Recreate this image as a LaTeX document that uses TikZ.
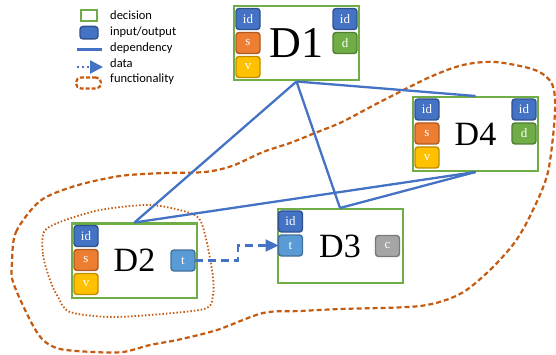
\documentclass[tikz,border=0pt]{standalone}
\usepackage{fontspec}
\setmainfont{Liberation Serif}
\newfontfamily\legendfont{Carlito}
\usetikzlibrary{arrows.meta,positioning}

\definecolor{decgreen}{HTML}{70AD47}
\definecolor{depblue}{HTML}{4472C4}
\definecolor{funcbrown}{HTML}{C55A11}
\definecolor{idfill}{HTML}{4472C4}
\definecolor{iddraw}{HTML}{2F528F}
\definecolor{sfill}{HTML}{ED7D31}
\definecolor{sdraw}{HTML}{AE5A21}
\definecolor{vfill}{HTML}{FFC000}
\definecolor{vdraw}{HTML}{BC8C00}
\definecolor{dfill}{HTML}{70AD47}
\definecolor{ddraw}{HTML}{507E32}
\definecolor{tfill}{HTML}{5B9BD5}
\definecolor{tdraw}{HTML}{41719C}
\definecolor{cfill}{HTML}{A5A5A5}
\definecolor{cdraw}{HTML}{787878}

\begin{document}
\begin{tikzpicture}[x=1pt,y=-1pt,node distance=3pt,auto]
    \tikzstyle{decision}=[draw=decgreen,fill=white,line width=2pt,minimum width=125pt,minimum height=74pt,inner sep=0pt,font=\fontsize{34}{34}\selectfont]
    \tikzstyle{io}=[rounded corners=3pt,line width=1.4pt,outer sep=0pt,minimum width=24pt,minimum height=21pt,inner sep=0pt,text=white,font=\fontsize{13}{13}\selectfont]
    \tikzstyle{idbox}=[io,fill=idfill,draw=iddraw]
    \tikzstyle{sbox}=[io,fill=sfill,draw=sdraw]
    \tikzstyle{vbox}=[io,fill=vfill,draw=vdraw]
    \tikzstyle{dbox}=[io,fill=dfill,draw=ddraw]
    \tikzstyle{tbox}=[io,fill=tfill,draw=tdraw]
    \tikzstyle{cbox}=[io,fill=cfill,draw=cdraw]
    \tikzstyle{dep}=[draw=depblue,line width=2.3pt]
    \tikzstyle{data}=[draw=depblue,line width=2.3pt,dash pattern=on 8pt off 5pt,-{Triangle[length=13pt,width=12pt]}]
    \tikzstyle{func}=[draw=funcbrown,line width=2.2pt,dash pattern=on 5pt off 3pt]
    \tikzstyle{subfunc}=[draw=funcbrown,line width=1.8pt,dash pattern=on 1.5pt off 2pt]
    \tikzstyle{legend}=[anchor=west,inner sep=0pt,text height=9pt,text depth=3pt,font=\legendfont\fontsize{12.5}{12.5}\selectfont]

    \useasboundingbox (0,0) rectangle (556,355);

    \draw[func] plot[smooth cycle] coordinates {(12,262) (16,232) (40,201) (75,186) (120,176) (165,173) (205,172) (232,166) (263,152) (290,143) (315,133) (342,122) (380,102) (430,77) (463,65) (495,62) (535,70) (552,84) (555,112) (548,172) (532,212) (515,242) (490,270) (460,294) (420,306) (340,309) (300,311) (263,313) (217,330) (177,340) (150,345) (123,352) (93,352) (60,349) (43,340) (30,320) (13,282)};
    \draw[subfunc] plot[smooth cycle] coordinates {(44,232) (43,255) (50,280) (58,297) (70,312) (113,317) (173,313) (207,308) (213,295) (213,277) (207,243) (200,220) (187,212) (150,205) (100,210) (60,222)};

    \node[draw=decgreen,line width=2pt,minimum width=16pt,minimum height=11pt,inner sep=0pt] (legdec) at (89,15.5) {};
    \node[legend] (txtdec) at (110,17) {decision};
    \node[idbox,minimum width=18pt,minimum height=12.5pt] (legio) at (89,32.7) {};
    \node[legend] (txtio) at (110,33) {input/output};
    \coordinate (legdepa) at (77,49.5);
    \coordinate (legdepb) at (102,49.5);
    \draw[dep] (legdepa) -- (legdepb);
    \node[legend] (txtdep) at (110,49) {dependency};
    \coordinate (legdataa) at (77,67);
    \coordinate (legdatab) at (103,67);
    \draw[draw=depblue,line width=2.3pt,dash pattern=on 2pt off 3pt,-{Triangle[length=13pt,width=13pt]}] (legdataa) -- (legdatab);
    \node[legend] (txtdata) at (110,64.5) {data};
    \node[func,rounded corners=5pt,dash pattern=on 4pt off 2pt,minimum width=25pt,minimum height=11pt,inner sep=0pt] (legfunc) at (88.5,83) {};
    \node[legend] (txtfunc) at (110,80) {functionality};

    \node[decision,font=\fontsize{44}{44}\selectfont] (d1) at (296.5,43.5) {D1};
    \node[decision] (d2) at (134.5,260.5) {D2};
    \node[decision] (d3) at (340,246) {D3};
    \node[decision] (d4) at (475.5,134) {D4};

    \path[dep]
    (d1.south) edge (d2.north)
    (d1.south) edge (d3.north)
    (d1.south) edge (d4.north)
    (d4.south) edge (d2.north)
    (d4.south) edge (d3.north);

    \node[idbox] (d1id) [below right=3pt and 3pt of d1.north west] {id};
    \node[sbox] (d1s) [below=of d1id] {s};
    \node[vbox] (d1v) [below=of d1s] {v};
    \node[idbox] (d1out) [below left=3pt and 3pt of d1.north east] {id};
    \node[dbox] (d1d) [below=of d1out] {d};

    \node[idbox] (d2id) [below right=3pt and 3pt of d2.north west] {id};
    \node[sbox] (d2s) [below=of d2id] {s};
    \node[vbox] (d2v) [below=of d2s] {v};
    \node[tbox] (d2t) [left=3pt of d2.east] {t};

    \node[idbox] (d3id) [below right=3pt and 2pt of d3.north west] {id};
    \node[tbox] (d3t) [below=of d3id] {t};
    \node[cbox] (d3c) [left=4pt of d3.east] {c};

    \node[idbox] (d4id) [below right=3pt and 3pt of d4.north west] {id};
    \node[sbox] (d4s) [below=of d4id] {s};
    \node[vbox] (d4v) [below=of d4s] {v};
    \node[idbox] (d4out) [below left=3pt and 3pt of d4.north east] {id};
    \node[dbox] (d4d) [below=of d4out] {d};

    \draw[data] (d2t.east) -- ++(43,0) |- (d3t.west);
\end{tikzpicture}
\end{document}
